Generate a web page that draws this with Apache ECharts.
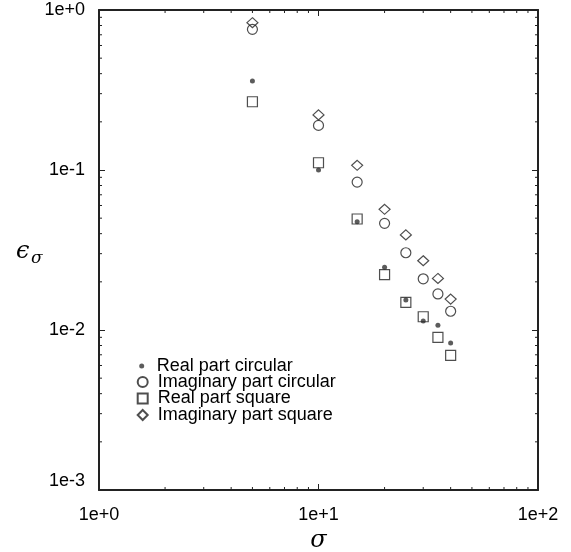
<!DOCTYPE html>
<html>
<head>
<meta charset="utf-8">
<script src="https://cdn.jsdelivr.net/npm/echarts@6/dist/echarts.min.js"></script>
<style>
    html, body { margin: 0; padding: 0; background: #fff; }
    #chart { width: 571px; height: 552px; }
</style>
</head>
<body>
<div id="chart"></div>
<script>
    const sigma = [5, 10, 15, 20, 25, 30, 35, 40];
    const realCircular = [0.36, 0.100, 0.0475, 0.0247, 0.0154, 0.0114, 0.0107, 0.0083];
    const imagCircular = [0.757, 0.190, 0.084, 0.0464, 0.0304, 0.0209, 0.0168, 0.0131];
    const realSquare = [0.267, 0.111, 0.0494, 0.0222, 0.0149, 0.0121, 0.0090, 0.00695];
    const imagSquare = [0.833, 0.221, 0.107, 0.0568, 0.0393, 0.0271, 0.0210, 0.0156];

    const xMinorTicks = [2, 3, 4, 5, 6, 7, 8, 9, 20, 30, 40, 50, 60, 70, 80, 90];
    const yMinorTicks = [0.002, 0.003, 0.004, 0.005, 0.006, 0.007, 0.008, 0.009,
        0.02, 0.03, 0.04, 0.05, 0.06, 0.07, 0.08, 0.09,
        0.2, 0.3, 0.4, 0.5, 0.6, 0.7, 0.8, 0.9];

    const ink = '#222';
    const sans = 'Liberation Sans, Arial, sans-serif';

    const pairs = ys => sigma.map((s, i) => [s, ys[i]]);
    const expLabel = v => {
        const e = Math.round(Math.log10(v));
        return '1e' + (e >= 0 ? '+' : '') + e;
    };

    function axisBase(show) {
        return {
            axisLine: {show: true, lineStyle: {color: ink, width: 2}},
            axisTick: {show: true, inside: true, length: 6, lineStyle: {color: ink, width: 1}},
            axisLabel: show ? {
                color: '#000', fontSize: 18, fontFamily: sans, formatter: expLabel
            } : {show: false},
            splitLine: {show: false}
        };
    }

    const myChart = echarts.init(document.getElementById('chart'));

    const legendItem = (name, top, size, pad) => ({
        data: [name],
        left: 141.7 - size / 2,
        top: top,
        padding: 0,
        itemWidth: size,
        itemHeight: size,
        selectedMode: false,
        textStyle: {fontSize: 18, fontFamily: sans, color: '#000', padding: [0, 0, 0, pad]}
    });

    const option = {
        animation: false,
        grid: {left: 99, right: 33, top: 10, bottom: 62, outerBoundsMode: 'none', containLabel: false},
        legend: [
            legendItem('Real part circular', 366 - 9, 5, 7.5),
            legendItem('Imaginary part circular', 382 - 9, 10, 5),
            legendItem('Real part square', 398.5 - 9, 10, 5),
            legendItem('Imaginary part square', 415 - 9, 10, 5)
        ],
        xAxis: [
            Object.assign({
                type: 'log', logBase: 10, min: 1, max: 100, position: 'bottom',
                name: 'σ', nameLocation: 'middle', nameGap: 30,
                nameTextStyle: {fontSize: 24, fontFamily: 'DejaVu Serif', fontStyle: 'italic', color: '#000'}
            }, axisBase(true), {axisLabel: {color: '#000', fontSize: 18, fontFamily: sans, formatter: expLabel, margin: 16}}),
            Object.assign({type: 'log', logBase: 10, min: 1, max: 100, position: 'top'}, axisBase(false))
        ],
        yAxis: [
            Object.assign({type: 'log', logBase: 10, min: 0.001, max: 1, position: 'left'}, axisBase(true),
                {axisLabel: {color: '#000', fontSize: 18, fontFamily: sans, formatter: expLabel, margin: 14,
                    verticalAlignMinLabel: 'bottom'}}),
            Object.assign({type: 'log', logBase: 10, min: 0.001, max: 1, position: 'right'}, axisBase(false))
        ],
        graphic: [
            {type: 'text', left: 16, top: 240,
                style: {text: 'ϵ', fontSize: 24, fontFamily: 'DejaVu Serif', fontStyle: 'italic', fill: '#000'}},
            {type: 'text', left: 31, top: 250,
                style: {text: 'σ', fontSize: 17, fontFamily: 'DejaVu Serif', fontStyle: 'italic', fill: '#000'}}
        ],
        series: [
            {
                name: 'Real part circular', type: 'scatter', data: pairs(realCircular),
                symbol: 'circle', symbolSize: 5,
                itemStyle: {color: '#333'}
            },
            {
                name: 'Imaginary part circular', type: 'scatter', data: pairs(imagCircular),
                symbol: 'circle', symbolSize: 10,
                itemStyle: {color: 'rgba(0,0,0,0)', borderColor: ink, borderWidth: 1.2}
            },
            {
                name: 'Real part square', type: 'scatter', data: pairs(realSquare),
                symbol: 'rect', symbolSize: 10,
                itemStyle: {color: 'rgba(0,0,0,0)', borderColor: ink, borderWidth: 1.2}
            },
            {
                name: 'Imaginary part square', type: 'scatter', data: pairs(imagSquare),
                symbol: 'diamond', symbolSize: [11, 10],
                itemStyle: {color: 'rgba(0,0,0,0)', borderColor: ink, borderWidth: 1.2}
            },
            {
                // minor ticks on bottom and top edges
                type: 'custom', silent: true, clip: false,
                data: xMinorTicks.map(v => [v, 1]),
                renderItem: function (params, api) {
                    const cs = params.coordSys;
                    const x = api.coord([api.value(0), api.value(1)])[0];
                    const b = cs.y + cs.height;
                    return {
                        type: 'group', children: [
                            {type: 'line', shape: {x1: x, y1: b, x2: x, y2: b - 3}, style: {stroke: ink, lineWidth: 1}},
                            {type: 'line', shape: {x1: x, y1: cs.y, x2: x, y2: cs.y + 3}, style: {stroke: ink, lineWidth: 1}}
                        ]
                    };
                }
            },
            {
                // minor ticks on left and right edges
                type: 'custom', silent: true, clip: false,
                data: yMinorTicks.map(v => [1, v]),
                renderItem: function (params, api) {
                    const cs = params.coordSys;
                    const y = api.coord([api.value(0), api.value(1)])[1];
                    const r = cs.x + cs.width;
                    return {
                        type: 'group', children: [
                            {type: 'line', shape: {x1: cs.x, y1: y, x2: cs.x + 3, y2: y}, style: {stroke: ink, lineWidth: 1}},
                            {type: 'line', shape: {x1: r, y1: y, x2: r - 3, y2: y}, style: {stroke: ink, lineWidth: 1}}
                        ]
                    };
                }
            }
        ]
    };
    myChart.setOption(option);
</script>
</body>
</html>
